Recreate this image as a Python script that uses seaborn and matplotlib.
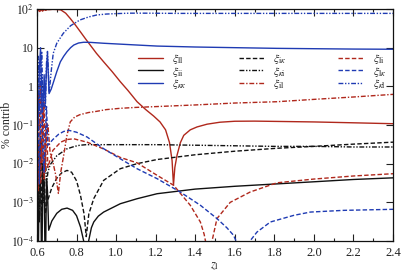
import numpy as np
import pandas as pd
import matplotlib
matplotlib.use("Agg")
import matplotlib.pyplot as plt
from matplotlib.ticker import FixedLocator, NullLocator, MultipleLocator
from matplotlib.lines import Line2D
import seaborn as sns

# ---------------- data ----------------
x_ll = [0.600, 0.607, 0.614, 0.621, 0.628, 0.636, 0.644, 0.652, 0.66, 0.68, 0.70, 0.72, 0.745, 0.768,
        0.795, 0.819, 0.845, 0.869, 0.90, 0.937, 0.98, 1.021, 1.06, 1.106, 1.15, 1.19, 1.222, 1.25, 1.27,
        1.283, 1.29, 1.297, 1.308, 1.325, 1.342, 1.375, 1.409, 1.46, 1.525, 1.6, 1.7, 1.8, 2.0, 2.2, 2.4]
y_ll = [82, 96, 86, 97, 88, 97, 92, 97, 96, 98, 97, 95, 78, 57,
        38, 25.9, 17, 11.7, 7.2, 4.3, 2.4, 1.32, 0.78, 0.40, 0.25, 0.17, 0.12, 0.075, 0.035,
        0.012, 0.0028, 0.008, 0.0165, 0.035, 0.054, 0.075, 0.089, 0.105, 0.118, 0.125, 0.126, 0.124, 0.12, 0.114, 0.108]

x_ii = [0.600, 0.606, 0.612, 0.618, 0.624, 0.630, 0.636, 0.642, 0.648, 0.653, 0.659, 0.675, 0.70, 0.725,
        0.752, 0.78, 0.80, 0.82, 0.836, 0.848, 0.861, 0.875, 0.887, 0.91, 0.937, 1.021, 1.106, 1.207,
        1.4, 1.6, 1.813, 2.0, 2.2, 2.4]
y_ii = [0.002, 1e-5, 0.03, 0.004, 1e-5, 0.01, 0.003, 1e-5, 0.004, 0.002, 1.9e-4, 3.3e-4, 5.2e-4, 6.6e-4,
        7.1e-4, 6.2e-4, 4.5e-4, 2.3e-4, 1e-4, 1e-6, 1e-4, 2.2e-4, 3.1e-4, 4.4e-4, 5.6e-4, 9.2e-4, 1.24e-3, 1.67e-3,
        2.2e-3, 2.6e-3, 3.0e-3, 3.4e-3, 3.9e-3, 4.3e-3]

x_kk = [0.600, 0.606, 0.612, 0.618, 0.624, 0.630, 0.636, 0.642, 0.648, 0.653, 0.661, 0.672, 0.684, 0.700,
        0.718, 0.735, 0.752, 0.77, 0.786, 0.81, 0.836, 0.87, 0.937, 1.0, 1.106, 1.207, 1.4, 1.6, 1.813,
        2.0, 2.2, 2.4]
y_kk = [2.0, 0.08, 3, 10, 0.3, 0.15, 2, 0.4, 3, 7, 0.65, 0.85, 1.32, 2.4,
        4.3, 6.0, 7.9, 10, 11.7, 13.2, 13.8, 13.7, 13.0, 12.5, 11.7, 11.0, 10.4, 10.0, 9.6,
        9.4, 9.2, 9.1]

x_ik = [0.600, 0.606, 0.612, 0.618, 0.624, 0.630, 0.636, 0.642, 0.651, 0.675, 0.70, 0.725, 0.752, 0.775,
        0.80, 0.82, 0.838, 0.849, 0.862, 0.887, 0.937, 1.021, 1.106, 1.207, 1.4, 1.6, 1.813, 2.0, 2.2, 2.4]
y_ik = [0.02, 2e-4, 0.005, 0.05, 3e-4, 0.003, 0.01, 5e-4, 1.0e-3, 2.4e-3, 4.2e-3, 5.8e-3, 6.7e-3, 6.0e-3,
        3.6e-3, 1.5e-3, 5e-4, 1.3e-4, 5e-4, 1.25e-3, 3.7e-3, 7.4e-3, 0.010, 0.0128, 0.017, 0.021, 0.025,
        0.028, 0.032, 0.036]

x_ki = [0.600, 0.606, 0.612, 0.618, 0.624, 0.630, 0.636, 0.642, 0.648, 0.655, 0.666, 0.70, 0.75, 0.79,
        0.817, 0.85, 0.9, 1.0, 1.2, 1.4, 1.6, 1.8, 2.0, 2.2, 2.4]
y_ki = [0.005, 0.03, 3e-4, 0.006, 0.04, 0.001, 0.004, 0.02, 0.003, 0.006, 0.0093, 0.016, 0.024, 0.028,
        0.030, 0.031, 0.031, 0.031, 0.031, 0.030, 0.029, 0.028, 0.028, 0.027, 0.027]

x_il = [0.600, 0.606, 0.612, 0.618, 0.624, 0.630, 0.636, 0.642, 0.648, 0.655, 0.666, 0.682, 0.695, 0.708,
        0.72, 0.735, 0.75, 0.768, 0.79, 0.817, 0.86, 0.90, 0.95, 1.02, 1.1, 1.207, 1.4, 1.6, 1.813, 2.0, 2.2, 2.4]
y_il = [0.05, 0.002, 0.3, 1.2, 0.01, 0.08, 0.4, 0.006, 0.05, 0.1, 0.02, 0.01, 0.005, 0.0017,
        0.006, 0.0165, 0.05, 0.12, 0.16, 0.185, 0.21, 0.225, 0.25, 0.27, 0.285, 0.30, 0.33, 0.37, 0.40,
        0.46, 0.53, 0.62]

x_li = [0.600, 0.606, 0.612, 0.618, 0.624, 0.630, 0.636, 0.642, 0.648, 0.655, 0.68, 0.72, 0.75, 0.786,
        0.853, 0.937, 1.021, 1.106, 1.207, 1.291, 1.375, 1.426, 1.445, 1.458, 1.47, 1.478, 1.485, 1.51,
        1.577, 1.678, 1.813, 2.0, 2.2, 2.4]
y_li = [0.002, 0.08, 0.6, 0.003, 0.04, 0.2, 0.004, 0.02, 0.12, 0.008, 0.022, 0.036, 0.042, 0.044,
        0.036, 0.024, 0.0145, 0.0105, 0.005, 0.00276, 8.4e-4, 3.1e-4, 1.5e-4, 7e-5, 1e-6, 5e-5, 1e-4, 3.8e-4,
        1.0e-3, 1.85e-3, 3.2e-3, 4.0e-3, 4.8e-3, 5.5e-3]

x_lk = [0.600, 0.606, 0.612, 0.618, 0.624, 0.630, 0.636, 0.642, 0.648, 0.655, 0.68, 0.71, 0.735, 0.76,
        0.8, 0.853, 0.937, 1.021, 1.106, 1.207, 1.324, 1.426, 1.51, 1.56, 1.594, 1.615, 1.635, 1.66, 1.677,
        1.712, 1.78, 1.898, 1.982, 2.15, 2.4]
y_lk = [0.01, 0.4, 0.003, 0.1, 2.0, 0.02, 0.006, 0.05, 0.3, 0.03, 0.042, 0.058, 0.068, 0.073,
        0.065, 0.049, 0.0244, 0.0134, 0.0074, 0.0041, 0.00185, 8.4e-4, 3.8e-4, 2.2e-4, 1.4e-4, 8e-5, 1e-6,
        6e-5, 1e-4, 1.7e-4, 3.1e-4, 4.6e-4, 5.6e-4, 6.2e-4, 6.6e-4]

x_kl = [0.600, 0.606, 0.612, 0.618, 0.624, 0.630, 0.636, 0.642, 0.648, 0.653, 0.662, 0.672, 0.682, 0.700,
        0.733, 0.77, 0.817, 0.86, 0.902, 0.95, 1.0, 1.07, 1.15, 1.3, 1.5, 1.8, 2.1, 2.4]
y_kl = [0.5, 6, 0.2, 2, 8, 0.3, 1, 0.25, 4, 8, 0.7, 2.5, 7.1, 13,
        23.5, 37, 52, 62, 70, 74, 76, 78, 78, 77, 77, 77, 77, 77]

terms = ["ll", "ii", "kk", "ik", "ki", "il", "li", "lk", "kl"]
labels = {
    "ll": r"$\xi_{\mathrm{ll}}$", "ii": r"$\xi_{\mathrm{ii}}$", "kk": r"$\xi_{\kappa\kappa}$",
    "ik": r"$\xi_{\mathrm{i}\kappa}$", "ki": r"$\xi_{\kappa\mathrm{i}}$", "il": r"$\xi_{\mathrm{il}}$",
    "li": r"$\xi_{\mathrm{li}}$", "lk": r"$\xi_{\mathrm{l}\kappa}$", "kl": r"$\xi_{\kappa\mathrm{l}}$",
}
series = {"ll": (x_ll, y_ll), "ii": (x_ii, y_ii), "kk": (x_kk, y_kk), "ik": (x_ik, y_ik),
          "ki": (x_ki, y_ki), "il": (x_il, y_il), "li": (x_li, y_li), "lk": (x_lk, y_lk),
          "kl": (x_kl, y_kl)}

ytick_vals = [1e-4, 1e-3, 1e-2, 1e-1, 1, 10, 100]
ytick_labels = [r"$10^{-4}$", r"$10^{-3}$", r"$10^{-2}$", r"$10^{-1}$", "1", "10", r"$10^{2}$"]
xtick_vals = [0.6, 0.8, 1.0, 1.2, 1.4, 1.6, 1.8, 2.0, 2.2, 2.4]

# ---------------- styling ----------------
RED = "#b0281c"
BLUE = "#1f3bb3"
BLACK = "#111111"
palette = {"ll": RED, "ii": BLACK, "kk": BLUE, "ik": BLACK, "ki": BLACK,
           "il": RED, "li": RED, "lk": BLUE, "kl": BLUE}
dashes = {"ll": "", "ii": "", "kk": "", "ik": (3.2, 1.6), "ki": (3.5, 1.2, 1, 1.2, 1, 1.2),
          "il": (3.5, 1.3, 1, 1.3), "li": (3.2, 1.6), "lk": (3.2, 1.6), "kl": (3.5, 1.2, 1, 1.2, 1, 1.2)}

rows = []
for t in terms:
    xs, ys = series[t]
    for a, b in zip(xs, ys):
        rows.append({"z": a, "v": b, "term": t})
df = pd.DataFrame(rows)

sns.set_theme(style="ticks")
plt.rcParams["font.family"] = ["Liberation Serif", "DejaVu Serif"]
plt.rcParams["mathtext.fontset"] = "stix"
plt.rcParams["axes.linewidth"] = 0.9

fig = plt.figure(figsize=(4.07, 2.71), dpi=100)
ax = fig.add_axes([37 / 407, 1 - 241 / 271, (393 - 37) / 407, (241 - 9) / 271])

sns.lineplot(data=df, x="z", y="v", hue="term", style="term", hue_order=terms, style_order=terms,
             palette=palette, dashes=dashes, linewidth=1.0, ax=ax, legend=False,
             estimator=None, sort=True)

ax.set_yscale("log")
ax.set_xlim(0.6, 2.4)
ax.set_ylim(1e-4, 100)
ax.yaxis.set_major_locator(FixedLocator(ytick_vals))
ax.yaxis.set_minor_locator(NullLocator())
ax.set_yticklabels(ytick_labels)
ax.xaxis.set_major_locator(FixedLocator(xtick_vals))
ax.xaxis.set_minor_locator(MultipleLocator(0.1))
ax.set_xticklabels([f"{v:.1f}" for v in xtick_vals])
ax.tick_params(which="both", direction="in", top=True, right=True, colors="#222222")
ax.tick_params(axis="x", labelsize=9, pad=4)
ax.tick_params(axis="y", labelsize=8.5, pad=2)
ax.tick_params(which="major", length=5, width=0.8)
ax.tick_params(which="minor", length=2.5, width=0.8)
for s in ax.spines.values():
    s.set_color("#111111")

ax.set_xlabel(r"$z_{\mathrm{l}}$", fontsize=9, labelpad=1)
ax.set_ylabel("% contrib", fontsize=8.5)
ax.yaxis.set_label_coords(-0.068, 0.5)

handles = [Line2D([], [], color=palette[t], lw=1.0,
                  linestyle="-" if dashes[t] == "" else (0, dashes[t])) for t in terms]
ax.legend(handles, [labels[t] for t in terms], ncol=3, loc="upper left",
          bbox_to_anchor=(0.27, 0.835), frameon=False, fontsize=8.5, handlelength=2.1,
          handletextpad=0.8, columnspacing=4.4, labelspacing=-0.12, borderaxespad=0)

fig.savefig("out.png", dpi=100)
